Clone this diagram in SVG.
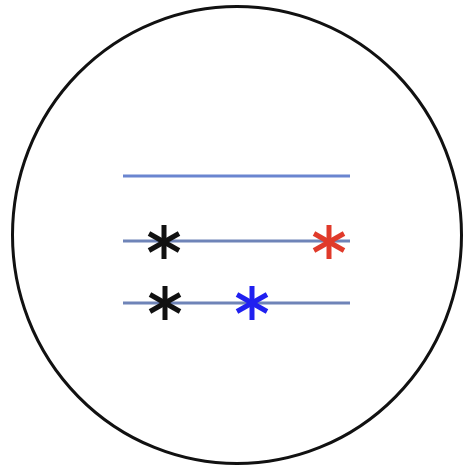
<svg xmlns="http://www.w3.org/2000/svg" width="465" height="469" viewBox="0 0 465 469">
<defs>
<style>
.ln{stroke:#6f84b8;stroke-width:3;fill:none}
.st{stroke-width:5;stroke-linecap:butt;fill:none}
</style>
<g id="star">
<line x1="0" y1="-17" x2="0" y2="17"/>
<line x1="-15" y1="-8.5" x2="15" y2="8.5"/>
<line x1="-15" y1="8.5" x2="15" y2="-8.5"/>
</g>
</defs>
<rect width="465" height="469" fill="#fff"/>
<ellipse id="outline" cx="237" cy="235" rx="224.5" ry="228.5" fill="none" stroke="#111" stroke-width="3"/>
<g id="lines">
<line class="ln" x1="123" y1="176" x2="350" y2="176" style="stroke:#6a85d0"/>
<line class="ln" x1="123" y1="241" x2="350" y2="241"/>
<line class="ln" x1="123" y1="303" x2="350" y2="303"/>
</g>
<g id="s1" class="st" stroke="#111"><use href="#star" x="164" y="242"/></g>
<g id="s2" class="st" stroke="#e03a2a"><use href="#star" x="329" y="242"/></g>
<g id="s3" class="st" stroke="#111"><use href="#star" x="165" y="303"/></g>
<g id="s4" class="st" stroke="#2020f0"><use href="#star" x="252" y="303"/></g>
</svg>
